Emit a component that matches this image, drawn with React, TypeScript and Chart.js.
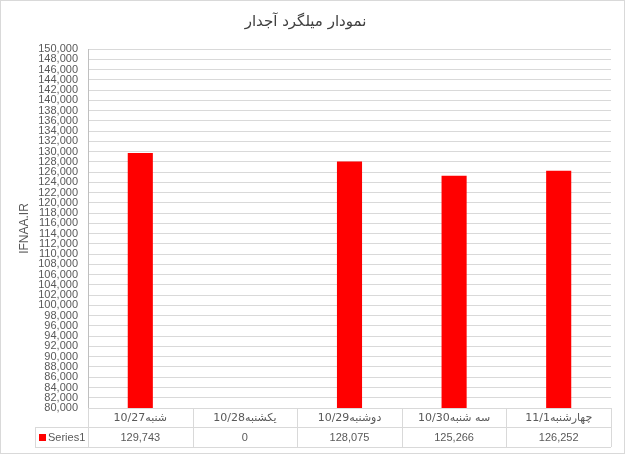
import React, { useEffect, useRef } from "react";
import { Chart, registerables } from "chart.js";

Chart.register(...registerables);

const chartTitle = "نمودار میلگرد آجدار";
const axisTitle = "IFNAA.IR";
const categories = ["شنبه10/27", "یکشنبه10/28", "دوشنبه10/29", "سه شنبه10/30", "چهارشنبه11/1"];
const seriesName = "Series1";
const values = [129743, 0, 128075, 125266, 126252];
const yMin = 80000;
const yMax = 150000;
const yStep = 2000;

const fmt = (v: number) => v.toLocaleString("en-US");

const GRID = "#d9d9d9";
const TEXT = "#595959";
const TICK_FONT = "'Liberation Sans', Arial, sans-serif";

const tablePlugin = {
  id: "dataTable",
  beforeDraw(chart: any) {
    const ctx = chart.ctx;
    ctx.save();
    ctx.fillStyle = "#ffffff";
    ctx.fillRect(0, 0, chart.width, chart.height);
    ctx.restore();
  },
  afterDraw(chart: any) {
    const ctx = chart.ctx;
    const x = chart.scales.x;
    const area = chart.chartArea;
    const top = Math.round(area.bottom);
    const r1 = top + 19;
    const r2 = top + 39;
    const half = (x.getPixelForValue(1) - x.getPixelForValue(0)) / 2;
    const leftX = 35;
    const rightX = Math.round(x.getPixelForValue(categories.length - 1) + half);
    ctx.save();
    ctx.strokeStyle = GRID;
    ctx.lineWidth = 1;
    ctx.beginPath();
    ctx.moveTo(leftX, r1 + 0.5);
    ctx.lineTo(rightX, r1 + 0.5);
    ctx.moveTo(leftX, r2 + 0.5);
    ctx.lineTo(rightX, r2 + 0.5);
    ctx.moveTo(leftX + 0.5, r1);
    ctx.lineTo(leftX + 0.5, r2);
    for (let i = 0; i <= categories.length; i++) {
      const bx = Math.round(x.getPixelForValue(0) - half + i * 2 * half) + 0.5;
      ctx.moveTo(bx, top);
      ctx.lineTo(bx, r2);
    }
    ctx.stroke();

    ctx.fillStyle = TEXT;
    ctx.textBaseline = "middle";
    ctx.textAlign = "center";
    categories.forEach((c, i) => {
      const cx = x.getPixelForValue(i);
      ctx.font = "11px 'DejaVu Sans', sans-serif";
      ctx.direction = "rtl";
      ctx.fillText(c, cx, (top + r1) / 2 + 1);
      ctx.direction = "ltr";
      ctx.font = `11px ${TICK_FONT}`;
      ctx.fillText(fmt(values[i]), cx, (r1 + r2) / 2 + 1);
    });

    ctx.fillStyle = "#ff0000";
    ctx.fillRect(39, (r1 + r2) / 2 - 3, 7, 7);
    ctx.fillStyle = TEXT;
    ctx.textAlign = "left";
    ctx.font = `11px ${TICK_FONT}`;
    ctx.fillText(seriesName, 48, (r1 + r2) / 2 + 1);

    ctx.strokeStyle = GRID;
    ctx.strokeRect(0.5, 0.5, chart.width - 1, chart.height - 1);
    ctx.restore();
  },
};

export default function App() {
  const ref = useRef<HTMLCanvasElement>(null);
  useEffect(() => {
    document.body.style.margin = "0";
    const chart = new Chart(ref.current!, {
      type: "bar",
      data: {
        labels: categories,
        datasets: [
          {
            label: seriesName,
            data: values,
            backgroundColor: "#ff0000",
            categoryPercentage: 0.8,
            barPercentage: 0.3,
          },
        ],
      },
      options: {
        responsive: false,
        animation: false,
        layout: { padding: { left: 0, right: 14, top: 0, bottom: 46 } },
        plugins: {
          legend: { display: false },
          tooltip: { enabled: false },
          title: {
            display: true,
            text: chartTitle,
            color: "#404040",
            font: { family: "'DejaVu Sans', sans-serif", size: 15, weight: "normal" as any, lineHeight: 1.2 },
            padding: { top: 13, bottom: 18 },
          },
        },
        scales: {
          x: { display: false },
          y: {
            min: yMin,
            max: yMax,
            afterFit: (s: any) => {
              s.width = 88;
            },
            ticks: {
              stepSize: yStep,
              autoSkip: false,
              color: TEXT,
              padding: 10,
              font: { family: TICK_FONT, size: 11, lineHeight: 1 },
              callback: (v: any) => fmt(Number(v)),
            },
            grid: { color: GRID, drawTicks: false },
            border: { color: "#bfbfbf" },
            title: {
              display: true,
              text: axisTitle,
              color: TEXT,
              font: { family: TICK_FONT, size: 12, lineHeight: 1.2 },
              padding: { top: 17, bottom: 0 },
            },
          },
        },
      },
      plugins: [tablePlugin],
    });
    return () => chart.destroy();
  }, []);
  return <canvas ref={ref} width={625} height={454} style={{ display: "block" }} />;
}
